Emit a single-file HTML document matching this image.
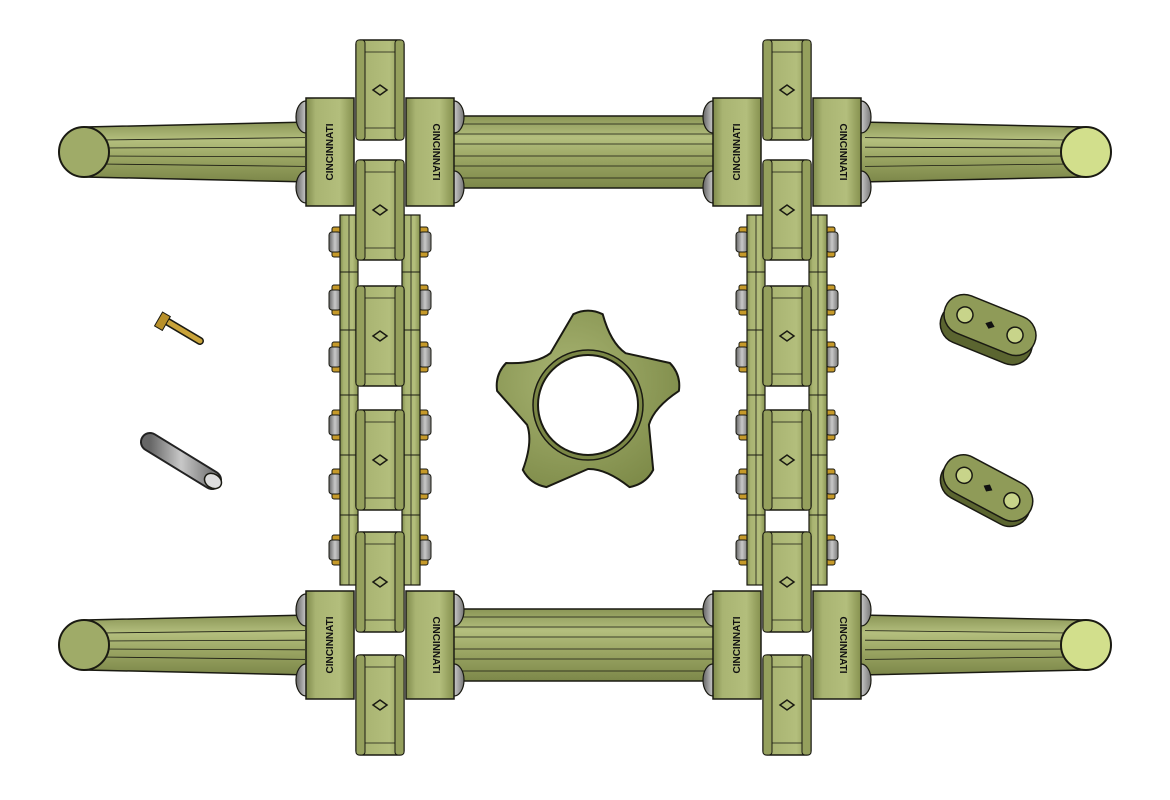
<!DOCTYPE html>
<html><head><meta charset="utf-8"><style>
html,body{margin:0;padding:0;background:#fff;width:1170px;height:800px;overflow:hidden}
svg{display:block}
</style></head><body>
<svg id="s" width="1170" height="800" viewBox="0 0 1170 800" xmlns="http://www.w3.org/2000/svg">
<defs>
<linearGradient id="gv" x1="0" y1="0" x2="1" y2="0">
<stop offset="0" stop-color="#7f8a4c"/><stop offset="0.2" stop-color="#a9b472"/><stop offset="0.7" stop-color="#b3be7c"/><stop offset="1" stop-color="#86914f"/></linearGradient>
<linearGradient id="gh" x1="0" y1="0" x2="0" y2="1">
<stop offset="0" stop-color="#8a9556"/><stop offset="0.3" stop-color="#b4bf7e"/><stop offset="0.6" stop-color="#9aa563"/><stop offset="1" stop-color="#7c8749"/></linearGradient>
<radialGradient id="gs" cx="0.4" cy="0.4" r="0.7"><stop offset="0" stop-color="#a8b472"/><stop offset="1" stop-color="#7d8a48"/></radialGradient>
<linearGradient id="gg" x1="0" y1="0" x2="1" y2="0"><stop offset="0" stop-color="#666"/><stop offset="0.5" stop-color="#c8c8c8"/><stop offset="1" stop-color="#777"/></linearGradient>
</defs>
<g id="bars"></g>
<g id="chains"></g>
<g id="parts"></g>
</svg>
<script>
const NS='http://www.w3.org/2000/svg';
const barYs=[152,645];
const chainXs=[380,787];
const barrelYs=[90,210,336,460,582,705];
const boltYs=[242,300,357,425,484,550];
function mk(parent,tag,attrs){const e=document.createElementNS(NS,tag);for(const k in attrs)e.setAttribute(k,attrs[k]);parent.appendChild(e);return e;}
const S='#1a1a12';
const bars=document.getElementById('bars');
barYs.forEach((cy,i)=>{
  const g=mk(bars,'g',{});
  
  
  mk(g,'path',{d:`M85 ${cy-25} L310 ${cy-30} L310 ${cy+30} L85 ${cy+25} Z`,fill:'url(#gh)',stroke:S,'stroke-width':1.5});
  mk(g,'path',{d:`M1085 ${cy-25} L860 ${cy-30} L860 ${cy+30} L1085 ${cy+25} Z`,fill:'url(#gh)',stroke:S,'stroke-width':1.5});
  for(const dy of [-12,-4,4,12]){
    mk(g,'line',{x1:100,y1:cy+dy,x2:305,y2:cy+dy*1.2,stroke:S,'stroke-width':0.8});
    mk(g,'line',{x1:1070,y1:cy+dy,x2:865,y2:cy+dy*1.2,stroke:S,'stroke-width':0.8});
  }
  const tl=mk(g,'ellipse',{cx:84,cy:cy,rx:25,ry:25,fill:'#9fab68',stroke:S,'stroke-width':2});
  
  
  const tr=mk(g,'ellipse',{cx:1086,cy:cy,rx:25,ry:25,fill:'#d2df8c',stroke:S,'stroke-width':2});
  
  
  mk(g,'rect',{x:440,y:cy-36,width:290,height:72,fill:'url(#gh)',stroke:S,'stroke-width':1.5});
  for(const dy of [-28,-18,-8,4,14,26]) mk(g,'line',{x1:440,y1:cy+dy,x2:730,y2:cy+dy,stroke:S,'stroke-width':0.8});
});
const chains=document.getElementById('chains');
function barrel(g,x,y){
  const b=mk(g,'g',{});
  
  
  mk(b,'rect',{x:x-24,y:y-50,width:48,height:100,rx:4,fill:'url(#gv)',stroke:S,'stroke-width':1.5});
  mk(b,'rect',{x:x-24,y:y-50,width:9,height:100,rx:3,fill:'#95a05d',stroke:S,'stroke-width':1});
  mk(b,'rect',{x:x+15,y:y-50,width:9,height:100,rx:3,fill:'#95a05d',stroke:S,'stroke-width':1});
  mk(b,'line',{x1:x-15,y1:y-38,x2:x+15,y2:y-38,stroke:S,'stroke-width':0.8});
  mk(b,'line',{x1:x-15,y1:y+38,x2:x+15,y2:y+38,stroke:S,'stroke-width':0.8});
  mk(b,'path',{d:`M${x-7} ${y} L${x} ${y-5} L${x+7} ${y} L${x} ${y+5} Z`,fill:'none',stroke:S,'stroke-width':1.5});
}
function bolt(g,x,y,dir){
  const b=mk(g,'g',{});
  
  
  mk(b,'rect',{x:x-3,y:y-15,width:10,height:30,rx:2,fill:'#c69a2a',stroke:S,'stroke-width':1,transform:dir>0?`translate(-4,0)`:''});
  mk(b,'rect',{x:x-6,y:y-10,width:12,height:20,rx:3,fill:'url(#gg)',stroke:S,'stroke-width':1});
}
chainXs.forEach((cx,ci)=>{
  const g=mk(chains,'g',{});
  
  
  boltYs.forEach(y=>{bolt(g,cx-45,y,-1);bolt(g,cx+45,y,1);});
  mk(g,'rect',{x:cx-40,y:215,width:18,height:370,fill:'url(#gv)',stroke:S,'stroke-width':1.2});
  mk(g,'rect',{x:cx+22,y:215,width:18,height:370,fill:'url(#gv)',stroke:S,'stroke-width':1.2});
  mk(g,'line',{x1:cx-31,y1:215,x2:cx-31,y2:585,stroke:S,'stroke-width':0.8});
  mk(g,'line',{x1:cx+31,y1:215,x2:cx+31,y2:585,stroke:S,'stroke-width':0.8});
  for(const y of [272,330,395,455,515]){
    mk(g,'line',{x1:cx-40,y1:y,x2:cx-22,y2:y,stroke:S,'stroke-width':1});
    mk(g,'line',{x1:cx+22,y1:y,x2:cx+40,y2:y,stroke:S,'stroke-width':1});
  }
  barrelYs.forEach(y=>barrel(g,cx,y));
  barYs.forEach(by=>{
    [[cx-50,-1],[cx+50,1]].forEach(([kx,d])=>{
      const k=mk(g,'g',{});
      
      
      mk(k,'ellipse',{cx:kx+d*24,cy:by-35,rx:10,ry:16,fill:'url(#gg)',stroke:S,'stroke-width':1.2});
      mk(k,'ellipse',{cx:kx+d*24,cy:by+35,rx:10,ry:16,fill:'url(#gg)',stroke:S,'stroke-width':1.2});
      mk(k,'path',{d:`M${kx-24} ${by-54} L${kx+24} ${by-54} L${kx+24} ${by+54} L${kx-24} ${by+54} Z`,fill:'url(#gv)',stroke:S,'stroke-width':1.5});
      const t=mk(k,'text',{x:0,y:0,'font-family':'Liberation Sans, sans-serif','font-size':10,'font-weight':'bold',fill:'#111','text-anchor':'middle',transform:`translate(${kx+3},${by}) rotate(${d<0?-90:90})`});
      t.textContent='CINCINNATI';
    });
  });
});
const parts=document.getElementById('parts');
const sp=mk(parts,'g',{});


const cx=588,cy=405;let d='';
for(let i=0;i<5;i++){
  const a=-Math.PI/2+i*2*Math.PI/5, a2=a+Math.PI/5;
  const tip=[cx+98*Math.cos(a),cy+98*Math.sin(a)];
  const w=0.16;
  const p1=[cx+92*Math.cos(a-w),cy+92*Math.sin(a-w)],p2=[cx+92*Math.cos(a+w),cy+92*Math.sin(a+w)];
  const v=[cx+64*Math.cos(a2),cy+64*Math.sin(a2)];
  const b1=[cx+66*Math.cos(a+0.35),cy+66*Math.sin(a+0.35)];
  d+=(i?'L':'M')+p1[0].toFixed(1)+' '+p1[1].toFixed(1)+' Q'+tip[0].toFixed(1)+' '+tip[1].toFixed(1)+' '+p2[0].toFixed(1)+' '+p2[1].toFixed(1)+' Q'+b1[0].toFixed(1)+' '+b1[1].toFixed(1)+' '+v[0].toFixed(1)+' '+v[1].toFixed(1)+' ';
}
d+='Z';
mk(sp,'path',{d:d,fill:'url(#gs)',stroke:S,'stroke-width':2,'stroke-linejoin':'round'});
mk(sp,'circle',{cx:cx,cy:cy,r:55,fill:'#7a8645',stroke:S,'stroke-width':1.5});
mk(sp,'circle',{cx:cx,cy:cy,r:50,fill:'#fff',stroke:S,'stroke-width':2});
const bp=mk(parts,'g',{});


mk(bp,'line',{x1:168,y1:322,x2:200,y2:341,stroke:'#1a1a12','stroke-width':8,'stroke-linecap':'round'});
mk(bp,'line',{x1:168,y1:322,x2:200,y2:341,stroke:'#c9a33a','stroke-width':5,'stroke-linecap':'round'});
mk(bp,'rect',{x:158,y:313,width:9,height:16,fill:'#b8902a',stroke:S,'stroke-width':1,transform:'rotate(30 162 321)'});
const pp=mk(parts,'g',{});


mk(pp,'line',{x1:150,y1:442,x2:212,y2:480,stroke:'#222','stroke-width':20,'stroke-linecap':'round'});
mk(pp,'line',{x1:150,y1:442,x2:212,y2:480,stroke:'url(#gg)','stroke-width':16,'stroke-linecap':'round'});
mk(pp,'ellipse',{cx:213,cy:481,rx:7,ry:9,fill:'#ddd',stroke:S,'stroke-width':1.5,transform:'rotate(-58 213 481)'});
function linkPlate(x,y,rot,name,thick){
  const l=mk(parts,'g',{transform:`translate(${x},${y}) rotate(${rot})`});
  
  
  mk(l,'rect',{x:-48,y:-20+thick,width:96,height:40,rx:20,fill:'#5b6530',stroke:S,'stroke-width':1.5});
  mk(l,'rect',{x:-48,y:-20,width:96,height:40,rx:20,fill:'#8f9b58',stroke:S,'stroke-width':1.5});
  mk(l,'circle',{cx:-27,cy:0,r:8,fill:'#c8d48a',stroke:S,'stroke-width':1.5});
  mk(l,'circle',{cx:27,cy:0,r:8,fill:'#c8d48a',stroke:S,'stroke-width':1.5});
  mk(l,'path',{d:'M-5 0 L0 -4 L5 0 L0 4 Z',fill:'#111'});
}
linkPlate(990,325,22,'loose-link-plate-1',10);
linkPlate(988,488,28,'loose-link-plate-2',6);
</script>
</body></html>
